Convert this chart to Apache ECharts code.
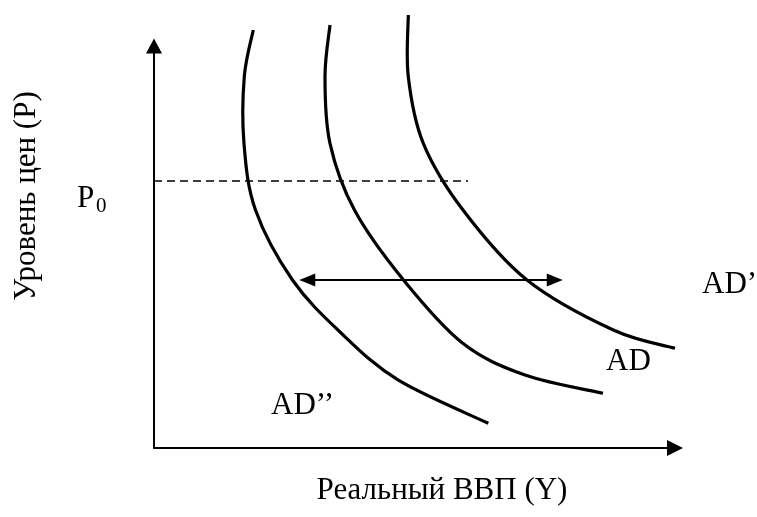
<!DOCTYPE html>
<html>
<head>
<meta charset="utf-8">
<script src="https://cdn.jsdelivr.net/npm/echarts@6/dist/echarts.min.js"></script>
<style>
html,body{margin:0;padding:0;background:#fff;}
#chart{width:757px;height:517px;}
</style>
</head>
<body>
<div id="chart"></div>
<script>
// Curve AD'' (left)
const adLeft = [[19.06,103.98],[17.33,92.36],[17.27,75.80],[19.48,59.20],[26.58,41.79],[35.70,28.86],[46.83,16.92],[64.17,6.14]];
// Curve AD (middle)
const adMid = [[33.78,105.22],[32.82,92.36],[33.78,75.80],[38.48,59.20],[47.89,41.79],[59.27,26.04],[71.21,18.16],[86.18,13.61]];
// Curve AD' (right)
const adRight = [[48.81,107.71],[48.81,92.36],[51.69,75.80],[59.31,59.20],[71.59,41.79],[88.16,29.35],[100.0,24.80]];
// Price level P0 (dashed line)
const p0Line = [[0,66.42],[60.27,66.42]];
// Double-headed shift arrow (tip to tip)
const shiftArrow = [[27.89,41.79],[78.45,41.79]];
// Texts
const yTitle = 'Уровень цен (P)';
const xTitle = 'Реальный ВВП (Y)';
const labelP = 'P';
const labelP0sub = '0';
const labelADLeft = 'AD’’';
const labelADMid = 'AD';
const labelADRight = 'AD’';

const FONT = '"Liberation Serif", "Times New Roman", serif';
const chart = echarts.init(document.getElementById('chart'), null, {renderer:'canvas'});

const GRID = {left:154, right:82, top:46, bottom:69};
const plotW = 757 - GRID.left - GRID.right;
const headLen = 16;
// arrow symbols are centred on the end points: move them inward by half the head length
const headShift = (headLen / 2) / plotW * 100;

// Catmull-Rom spline through the given pixel points, as SVG path data
function splinePath(pts){
  let d = 'M' + pts[0][0] + ' ' + pts[0][1];
  for (let i = 0; i < pts.length - 1; i++){
    const p0 = pts[i - 1] || pts[i], p1 = pts[i], p2 = pts[i + 1], p3 = pts[i + 2] || pts[i + 1];
    const c1x = p1[0] + (p2[0] - p0[0]) / 6, c1y = p1[1] + (p2[1] - p0[1]) / 6;
    const c2x = p2[0] - (p3[0] - p1[0]) / 6, c2y = p2[1] - (p3[1] - p1[1]) / 6;
    d += ' C' + c1x + ' ' + c1y + ' ' + c2x + ' ' + c2y + ' ' + p2[0] + ' ' + p2[1];
  }
  return d;
}

// Each AD curve: one custom-series item whose points are placed through the axes (api.coord)
function curve(points, name){
  return {type:'custom', name:name, data:[0], silent:true, clip:false, z:3,
    renderItem:function(params, api){
      const px = points.map(function(p){ return api.coord(p); });
      return {type:'path',
        shape:{pathData:splinePath(px)},
        style:{stroke:'#000', lineWidth:3.2, fill:'none', lineCap:'butt'}};
    }};
}

chart.setOption({
  animation:false,
  backgroundColor:'#fff',
  grid:Object.assign({containLabel:false}, GRID),
  xAxis:{type:'value', min:0, max:100,
    axisLine:{show:true, symbol:['none','triangle'], symbolSize:[16,16], lineStyle:{color:'#000', width:2}},
    axisTick:{show:false}, axisLabel:{show:false}, splitLine:{show:false}},
  yAxis:{type:'value', min:0, max:100,
    axisLine:{show:true, symbol:['none','triangle'], symbolSize:[16,15], lineStyle:{color:'#000', width:2}},
    axisTick:{show:false}, axisLabel:{show:false}, splitLine:{show:false}},
  series:[
    curve(adLeft, 'AD’’'), curve(adMid, 'AD'), curve(adRight, 'AD’'),
    {type:'line', data:p0Line, symbol:'none', clip:false, silent:true,
      lineStyle:{color:'#000', width:1.5, type:[8,5]}, z:2},
    {type:'line', data:[], silent:true,
      markLine:{silent:true, symbol:['triangle','triangle'], symbolSize:[13,headLen],
        lineStyle:{color:'#000', width:2, type:'solid'}, label:{show:false},
        data:[[{coord:[shiftArrow[0][0] + headShift, shiftArrow[0][1]]},
               {coord:[shiftArrow[1][0] - headShift, shiftArrow[1][1]]}]]}}
  ],
  graphic:[
    {type:'text', x:27, y:196, rotation:Math.PI/2,
      style:{text:yTitle, font:'31px '+FONT, fill:'#000', textAlign:'center', textVerticalAlign:'middle'}},
    {type:'text', x:442, y:491,
      style:{text:xTitle, font:'31px '+FONT, fill:'#000', textAlign:'center', textVerticalAlign:'middle'}},
    {type:'text', x:77, y:199,
      style:{text:labelP, font:'31px '+FONT, fill:'#000', textAlign:'left', textVerticalAlign:'middle'}},
    {type:'text', x:96, y:206,
      style:{text:labelP0sub, font:'21px '+FONT, fill:'#000', textAlign:'left', textVerticalAlign:'middle'}},
    {type:'text', x:271, y:406,
      style:{text:labelADLeft, font:'31px '+FONT, fill:'#000', textAlign:'left', textVerticalAlign:'middle'}},
    {type:'rect', shape:{x:262, y:416, width:85, height:14}, style:{fill:'#fff'}, z:100},
    {type:'text', x:606, y:362,
      style:{text:labelADMid, font:'31px '+FONT, fill:'#000', textAlign:'left', textVerticalAlign:'middle'}},
    {type:'text', x:702, y:285,
      style:{text:labelADRight, font:'31px '+FONT, fill:'#000', textAlign:'left', textVerticalAlign:'middle'}}
  ]
});
</script>
</body>
</html>
